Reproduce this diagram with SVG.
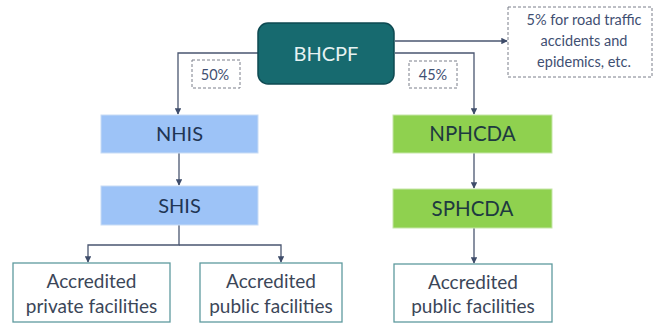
<svg xmlns="http://www.w3.org/2000/svg" width="655" height="325" viewBox="0 0 655 325">
  <defs>
    <marker id="arr" viewBox="0 0 8 8" refX="7" refY="4" markerWidth="5" markerHeight="5" orient="auto">
      <path d="M0,0 L8,4 L0,8 z" fill="#3e4c6a"/>
    </marker>
    <style>
      text { font-family: Lato, "Open Sans", "Liberation Sans", sans-serif; text-anchor: middle; }
      .conn { fill: none; stroke: #4a5670; stroke-width: 1.3; }
      .dash { fill: #ffffff; stroke: #7a7f8a; stroke-width: 1; stroke-dasharray: 3 2; }
      .dtxt { font-size: 14.5px; fill: #3f4f72; }
      .blue { fill: #9dc3f7; stroke: #c8dcf5; stroke-width: 1; }
      .green { fill: #8fd14f; stroke: #c5e6a8; stroke-width: 1; }
      .btxt { font-size: 20px; fill: #1f3554; }
      .gtxt { font-size: 20.5px; fill: #1e3a40; }
      .fac { fill: #ffffff; stroke: #5e9a9e; stroke-width: 1.3; }
      .ftxt { font-size: 19px; fill: #3b4658; }
    </style>
  </defs>

  <!-- connectors -->
  <g id="connectors">
    <path class="conn" d="M258,53 H178 V114" marker-end="url(#arr)"/>
    <path class="conn" d="M395,53 H474 V114" marker-end="url(#arr)"/>
    <path class="conn" d="M395,41 H507" marker-end="url(#arr)"/>
    <path class="conn" d="M179,153 V185" marker-end="url(#arr)"/>
    <path class="conn" d="M474,153 V188" marker-end="url(#arr)"/>
    <path class="conn" d="M179,225 V245 H88 V262" marker-end="url(#arr)"/>
    <path class="conn" d="M179,245 H281 V262" marker-end="url(#arr)"/>
    <path class="conn" d="M474,228 V263" marker-end="url(#arr)"/>
  </g>

  <!-- root fund -->
  <g id="bhcpf">
    <rect x="258" y="23" width="136" height="61" rx="10" ry="10" fill="#176a6f" stroke="#0e4a52" stroke-width="1.5"/>
    <text x="326" y="61" font-size="20" fill="#e6f2f2">BHCPF</text>
  </g>

  <!-- share labels -->
  <g id="share-50">
    <rect class="dash" x="192" y="60" width="48" height="28"/>
    <text class="dtxt" x="215" y="79.5">50%</text>
  </g>
  <g id="share-45">
    <rect class="dash" x="409" y="61" width="48" height="27"/>
    <text class="dtxt" x="433" y="80">45%</text>
  </g>
  <g id="share-5">
    <rect class="dash" x="508" y="7" width="144" height="70"/>
    <text class="dtxt" x="584" y="25">5% for road traffic</text>
    <text class="dtxt" x="584" y="46">accidents and</text>
    <text class="dtxt" x="584" y="67">epidemics, etc.</text>
  </g>

  <!-- insurance branch -->
  <g id="nhis">
    <rect class="blue" x="101" y="115" width="157" height="38"/>
    <text class="btxt" x="179.5" y="141">NHIS</text>
  </g>
  <g id="shis">
    <rect class="blue" x="101" y="186" width="157" height="39"/>
    <text class="btxt" x="179.5" y="212.5">SHIS</text>
  </g>

  <!-- primary health care branch -->
  <g id="nphcda">
    <rect class="green" x="393" y="115" width="159" height="38"/>
    <text class="gtxt" x="472.5" y="141">NPHCDA</text>
  </g>
  <g id="sphcda">
    <rect class="green" x="393" y="189" width="159" height="39"/>
    <text class="gtxt" x="472.5" y="215.5">SPHCDA</text>
  </g>

  <!-- facilities -->
  <g id="private-facilities">
    <rect class="fac" x="13" y="263" width="157" height="59"/>
    <text class="ftxt" x="91.5" y="288">Accredited</text>
    <text class="ftxt" x="91.5" y="313">private facilities</text>
  </g>
  <g id="public-facilities-shis">
    <rect class="fac" x="200" y="263" width="142" height="59"/>
    <text class="ftxt" x="271" y="288">Accredited</text>
    <text class="ftxt" x="271" y="313">public facilities</text>
  </g>
  <g id="public-facilities-sphcda">
    <rect class="fac" x="394" y="264" width="158" height="58"/>
    <text class="ftxt" x="473" y="289">Accredited</text>
    <text class="ftxt" x="473" y="313">public facilities</text>
  </g>
</svg>
